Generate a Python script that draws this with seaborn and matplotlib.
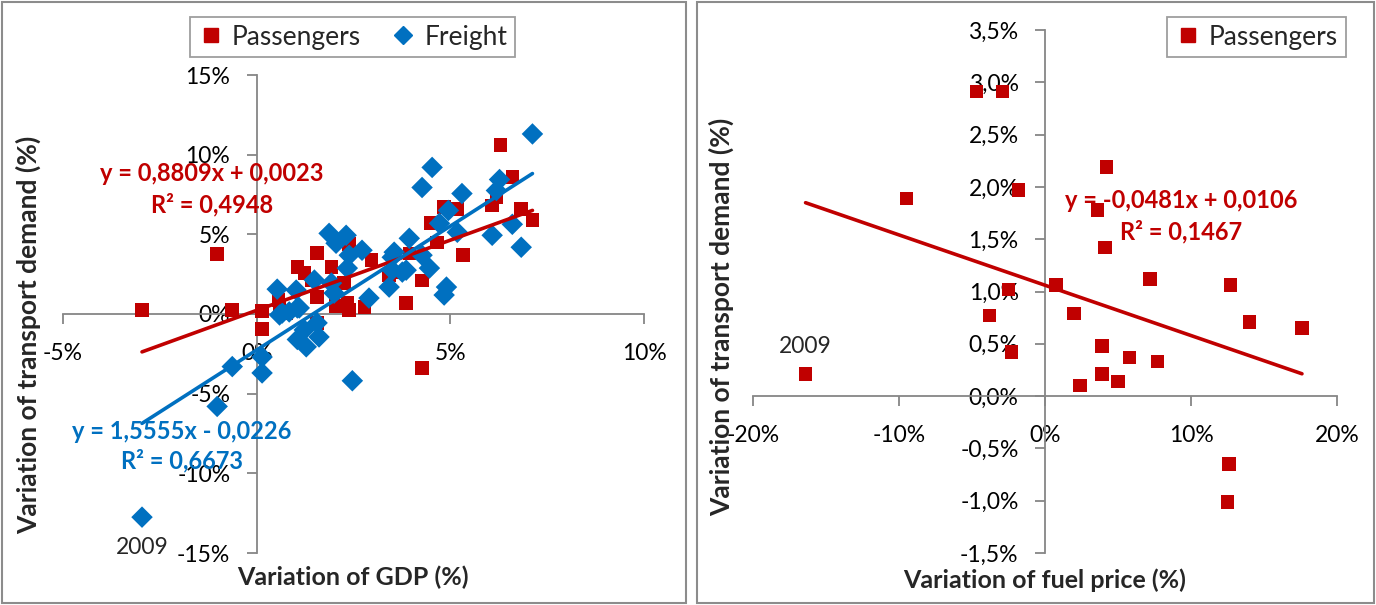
import numpy as np
import pandas as pd
import matplotlib.pyplot as plt
import seaborn as sns
from matplotlib.patches import Rectangle
from matplotlib.lines import Line2D
from matplotlib.ticker import FuncFormatter, MultipleLocator

sns.set_theme(style="white")
plt.rcParams["font.family"] = ["Lato", "DejaVu Sans"]

# ---- left chart: variation of GDP vs transport demand (values in %) ----
gdp_pass = [-2.96, -1.02, -0.63, 0.14, 0.14, 0.56, 0.59, 0.76, 1.05, 1.23,
            1.56, 1.41, 1.56, 1.93, 2.03, 2.34, 2.39, 2.26, 2.78, 2.96,
            3.42, 2.39, 1.56, 6.29, 6.6, 6.19, 6.08, 4.84, 5.18, 6.83,
            7.12, 4.5, 4.66, 3.94, 5.33, 4.27, 3.6, 3.86, 4.27]
dem_pass = [0.25, 3.77, 0.25, 0.19, -0.94, 0.88, 0.38, 0.06, 2.95, 2.57,
            3.83, 2.13, 1.07, 2.95, 0.50, 0.69, 0.25, 1.95, 0.44, 3.39,
            2.45, 4.39, -0.56, 10.6, 8.6, 7.3, 6.8, 6.7, 6.6, 6.6,
            5.9, 5.7, 4.5, 3.8, 3.7, 2.1, 2.6, 0.69, -3.4]

gdp_freight = [-2.96, -1.02, -0.63, 0.14, 0.14, 0.59, 0.84, 1.1, 1.23, 1.05,
               1.28, 1.56, 1.61, 0.53, 0.66, 1.02, 1.05, 1.49, 1.87, 2.31,
               2.05, 1.93, 2.0, 2.39, 2.34, 2.72, 2.9, 3.42, 3.5, 3.5,
               7.12, 4.53, 4.27, 5.3, 6.27, 6.19, 4.95, 4.72, 5.18, 6.08,
               6.6, 6.83, 3.94, 3.55, 3.86, 4.46, 4.27, 4.9, 4.84, 3.76, 2.47]
dem_freight = [-12.75, -5.8, -3.3, -2.7, -3.7, -0.06, 0.13, 0.38, -1.0, -1.6,
               -2.06, -0.56, -1.44, 1.56, 0.06, 1.5, 0.38, 2.13, 5.06, 4.94,
               4.44, 1.94, 1.31, 3.69, 2.88, 4.0, 1.0, 1.69, 3.56, 2.75,
               11.3, 9.2, 7.94, 7.56, 8.44, 7.75, 6.5, 5.69, 5.13, 4.94,
               5.63, 4.19, 4.75, 3.88, 2.75, 2.88, 3.69, 1.69, 1.19, 2.63, -4.19]

pass_fit = (0.8809, 0.0023, 0.4948)      # slope, intercept, R2
freight_fit = (1.5555, -0.0226, 0.6673)

# ---- right chart: variation of fuel price vs passenger demand (values in %) ----
fuel_pass = [-16.4, -9.49, -4.69, -2.91, -1.82, -2.5, -3.8, -2.3, 0.75, 4.2,
             3.6, 4.1, 7.2, 12.7, 2.0, 3.9, 5.8, 7.7, 3.9, 5.0,
             2.4, 14.0, 17.6, 12.6, 12.5]
dem_pass_fuel = [0.21, 1.89, 2.91, 2.91, 1.97, 1.02, 0.77, 0.42, 1.06, 2.19,
                 1.78, 1.42, 1.12, 1.06, 0.79, 0.48, 0.37, 0.33, 0.21, 0.14,
                 0.10, 0.71, 0.65, -0.65, -1.01]
fuel_fit = (-0.0481, 0.0106, 0.1467)

RED = "#C00000"
BLUE = "#0070C0"
GREY = "#868686"

W, H = 1376, 605
fig = plt.figure(figsize=(W / 100, H / 100), dpi=100)

# chart borders (Excel style)
for x0, x1 in [(2, 686), (697, 1374)]:
    fig.patches.append(Rectangle((x0 / W, 2 / H), (x1 - x0) / W, (H - 4) / H,
                                 transform=fig.transFigure, fill=False,
                                 edgecolor="#8c8c8c", linewidth=1.5))


def fmt_eq(fit):
    a, b, r2 = fit
    sign = "-" if b < 0 else "+"
    txt = f"y = {a:.4f}x {sign} {abs(b):.4f}\nR² = {r2:.4f}"
    return txt.replace(".", ",")


def style_axes(ax, pad_y, pad_x):
    for s in ["top", "right"]:
        ax.spines[s].set_visible(False)
    for s in ["left", "bottom"]:
        ax.spines[s].set_position("zero")
        ax.spines[s].set_color(GREY)
        ax.spines[s].set_linewidth(1.3)
    ax.tick_params(axis="both", which="major", direction="out", length=7,
                   width=1.3, color=GREY, labelsize=16.5, labelcolor="black")
    ax.tick_params(axis="y", left=True, pad=pad_y)
    ax.tick_params(axis="x", bottom=True, pad=pad_x)
    ax.grid(False)
    ax.set_facecolor("none")
    ax.set_xlabel("")
    ax.set_ylabel("")


# ---------------- left chart ----------------
ax1 = fig.add_axes([63 / W, 1 - 553 / H, (644 - 63) / W, (553 - 75) / H])
df_p = pd.DataFrame({"gdp": gdp_pass, "demand": dem_pass})
df_f = pd.DataFrame({"gdp": gdp_freight, "demand": dem_freight})

sns.scatterplot(data=df_p, x="gdp", y="demand", marker="s", s=95,
                color=RED, edgecolor="none", ax=ax1, zorder=3)
sns.scatterplot(data=df_f, x="gdp", y="demand", marker="D", s=120,
                color=BLUE, edgecolor="none", ax=ax1, zorder=3)

for df, fit, col in [(df_p, pass_fit, RED), (df_f, freight_fit, BLUE)]:
    xs = np.array([df["gdp"].min(), df["gdp"].max()])
    ys = (fit[0] * xs / 100 + fit[1]) * 100
    ax1.plot(xs, ys, color=col, linewidth=2.6, zorder=4)

ax1.set_xlim(-5, 10)
ax1.set_ylim(-15, 15)
ax1.xaxis.set_major_locator(MultipleLocator(5))
ax1.yaxis.set_major_locator(MultipleLocator(5))
ax1.xaxis.set_major_formatter(FuncFormatter(lambda v, p: f"{v:.0f}%"))
ax1.yaxis.set_major_formatter(FuncFormatter(lambda v, p: f"{v:.0f}%"))
style_axes(ax1, pad_y=12, pad_x=14)

ax1.text(-1.15, 7.84, fmt_eq(pass_fit), color=RED, fontsize=17,
         fontweight="bold", ha="center", va="center", linespacing=1.4, zorder=5)
ax1.text(-1.93, -8.31, fmt_eq(freight_fit), color=BLUE, fontsize=17,
         fontweight="bold", ha="center", va="center", linespacing=1.3, zorder=5)
ax1.annotate("2009", (gdp_freight[0], dem_freight[0]), xytext=(0, -21.5),
             textcoords="offset points", ha="center", va="center", fontsize=16.5)

leg1 = ax1.legend(handles=[
    Line2D([], [], marker="s", color=RED, linestyle="none", markersize=10),
    Line2D([], [], marker="D", color=BLUE, linestyle="none", markersize=9.5)],
    labels=["Passengers", "Freight"], ncol=2, loc="center",
    bbox_to_anchor=(352.5 / W, 1 - 37 / H), bbox_transform=fig.transFigure,
    fontsize=19, frameon=True, fancybox=False, edgecolor=GREY,
    handletextpad=0.3, columnspacing=1.1, handlelength=1.0, borderpad=0.3)
leg1.get_frame().set_linewidth(1.3)

fig.text(28 / W, 1 - 335 / H, "Variation of transport demand (%)", rotation=90,
         ha="center", va="center", fontsize=19, fontweight="bold")
fig.text(353 / W, 1 - 577 / H, "Variation of GDP (%)",
         ha="center", va="center", fontsize=18, fontweight="bold")

# ---------------- right chart ----------------
ax2 = fig.add_axes([753 / W, 1 - 553 / H, (1337 - 753) / W, (553 - 30) / H])
df_r = pd.DataFrame({"fuel": fuel_pass, "demand": dem_pass_fuel})
sns.scatterplot(data=df_r, x="fuel", y="demand", marker="s", s=95,
                color=RED, edgecolor="none", ax=ax2, zorder=3)
xs = np.array([df_r["fuel"].min(), df_r["fuel"].max()])
ys = (fuel_fit[0] * xs / 100 + fuel_fit[1]) * 100
ax2.plot(xs, ys, color=RED, linewidth=2.6, zorder=4)

ax2.set_xlim(-20, 20)
ax2.set_ylim(-1.5, 3.5)
ax2.xaxis.set_major_locator(MultipleLocator(10))
ax2.yaxis.set_major_locator(MultipleLocator(0.5))
ax2.xaxis.set_major_formatter(FuncFormatter(lambda v, p: f"{v:.0f}%"))
ax2.yaxis.set_major_formatter(FuncFormatter(lambda v, p: f"{v:.1f}%".replace(".", ",")))
style_axes(ax2, pad_y=12, pad_x=14)

ax2.text(9.35, 1.72, fmt_eq(fuel_fit), color=RED, fontsize=17,
         fontweight="bold", ha="center", va="center", linespacing=1.4, zorder=5)
ax2.annotate("2009", (fuel_pass[0], dem_pass_fuel[0]), xytext=(0, 20),
             textcoords="offset points", ha="center", va="center", fontsize=16.5)

leg2 = ax2.legend(handles=[
    Line2D([], [], marker="s", color=RED, linestyle="none", markersize=10)],
    labels=["Passengers"], loc="center",
    bbox_to_anchor=(1256.5 / W, 1 - 37 / H), bbox_transform=fig.transFigure,
    fontsize=19, frameon=True, fancybox=False, edgecolor=GREY,
    handletextpad=0.3, handlelength=1.0, borderpad=0.3)
leg2.get_frame().set_linewidth(1.3)

fig.text(721 / W, 1 - 317 / H, "Variation of transport demand (%)", rotation=90,
         ha="center", va="center", fontsize=19, fontweight="bold")
fig.text(1045 / W, 1 - 580 / H, "Variation of fuel price (%)",
         ha="center", va="center", fontsize=18, fontweight="bold")

fig.savefig("out.png", dpi=100)
